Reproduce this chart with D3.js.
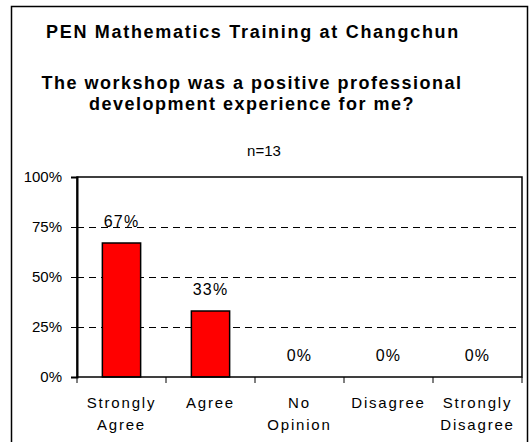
<!DOCTYPE html>
<html>
<head>
<meta charset="utf-8">
<script src="https://cdn.jsdelivr.net/npm/d3@7"></script>
<style>
  body { margin: 0; background: #fff; }
  text { font-family: "Liberation Sans", Arial, sans-serif; fill: #000; }
</style>
</head>
<body>
<div class="chart"></div>
<script>
// === Data ===
const categories = ["Strongly Agree", "Agree", "No Opinion", "Disagree", "Strongly Disagree"];
const categoryLines = [["Strongly", "Agree"], ["Agree"], ["No", "Opinion"], ["Disagree"], ["Strongly", "Disagree"]];
const percentages = [0.67, 0.33, 0, 0, 0];
const yTicks = [0, 0.25, 0.5, 0.75, 1];
const titleText = "PEN Mathematics Training at Changchun";
const subtitleLines = ["The workshop was a positive professional", "development experience for me?"];
const noteText = "n=13";

const width = 530, height = 442;
// plot area
const plot = {left: 77, right: 522, top: 177, bottom: 377};

const svg = d3.select(".chart").append("svg")
    .attr("width", width)
    .attr("height", height);

// outer frame (bottom edge runs off the picture)
svg.append("rect")
    .attr("x", 11.5)
    .attr("y", 6.5)
    .attr("width", 516)
    .attr("height", 460)
    .attr("fill", "none")
    .attr("stroke", "#000")
    .attr("stroke-width", 1.5);

// === Titles ===
svg.append("text")
    .attr("x", 253)
    .attr("y", 38)
    .attr("text-anchor", "middle")
    .attr("font-size", "18px")
    .attr("font-weight", "bold")
    .attr("letter-spacing", "1.7px")
    .text(titleText);

svg.selectAll(".subtitle")
    .data(subtitleLines)
    .enter()
    .append("text")
    .attr("class", "subtitle")
    .attr("x", 252)
    .attr("y", (d, i) => 89 + i * 21)
    .attr("text-anchor", "middle")
    .attr("font-size", "18px")
    .attr("font-weight", "bold")
    .attr("letter-spacing", "1.5px")
    .text(d => d);

svg.append("text")
    .attr("x", 264)
    .attr("y", 156)
    .attr("text-anchor", "middle")
    .attr("font-size", "15px")
    .text(noteText);

// === Scales ===
const xScale = d3.scaleBand()
    .domain(categories)
    .range([plot.left, plot.right])
    .paddingInner(0.57)
    .paddingOuter(0.285);

const yScale = d3.scaleLinear()
    .domain([0, 1])
    .range([plot.bottom, plot.top]);

// dashed grid lines
svg.append("g")
    .attr("transform", "translate(0,0.5)")
    .selectAll("line")
    .data(yTicks.filter(t => t > 0 && t < 1))
    .enter()
    .append("line")
    .attr("x1", plot.left)
    .attr("x2", plot.right - 6)
    .attr("y1", d => yScale(d))
    .attr("y2", d => yScale(d))
    .attr("stroke", "#000")
    .attr("stroke-width", 1)
    .attr("stroke-dasharray", "7,5");

// === Bars ===
svg.selectAll(".bar")
    .data(percentages)
    .enter()
    .append("rect")
    .attr("class", "bar")
    .attr("x", (d, i) => xScale(categories[i]))
    .attr("y", d => yScale(d))
    .attr("width", xScale.bandwidth())
    .attr("height", d => yScale(0) - yScale(d))
    .attr("fill", "#ff0000")
    .attr("stroke", "#000")
    .attr("stroke-width", 1.5);

// value labels
svg.selectAll(".value-label")
    .data(percentages)
    .enter()
    .append("text")
    .attr("class", "value-label")
    .attr("x", (d, i) => xScale(categories[i]) + xScale.bandwidth() / 2)
    .attr("y", d => yScale(d) - 16)
    .attr("text-anchor", "middle")
    .attr("font-size", "16px")
    .attr("letter-spacing", "1.2px")
    .text(d => d3.format(".0%")(d));

// plot frame
svg.append("rect")
    .attr("x", plot.left)
    .attr("y", plot.top)
    .attr("width", plot.right - plot.left)
    .attr("height", plot.bottom - plot.top)
    .attr("fill", "none")
    .attr("stroke", "#000")
    .attr("stroke-width", 1.5);

// === Axes ===
const yAxis = d3.axisLeft(yScale)
    .tickValues(yTicks)
    .tickFormat(d3.format(".0%"))
    .tickSize(6)
    .tickPadding(9);

const yAxisG = svg.append("g")
    .attr("transform", `translate(${plot.left},0)`)
    .call(yAxis);
yAxisG.select(".domain").attr("stroke-width", 2);
yAxisG.selectAll("text")
    .attr("font-size", "15px")
    .attr("font-family", null);

// category ticks on band boundaries
const boundaries = categories.map(c => xScale(c) - xScale.step() * xScale.paddingOuter());
boundaries.push(plot.right);
svg.append("g")
    .selectAll("line")
    .data(boundaries)
    .enter()
    .append("line")
    .attr("x1", d => d)
    .attr("x2", d => d)
    .attr("y1", plot.bottom)
    .attr("y2", plot.bottom + 6)
    .attr("stroke", "#000")
    .attr("stroke-width", 1);

// category labels
const catLabels = svg.append("g")
    .selectAll("text")
    .data(categoryLines)
    .enter()
    .append("text")
    .attr("text-anchor", "middle")
    .attr("font-size", "15px")
    .attr("letter-spacing", "1.8px");

catLabels.selectAll("tspan")
    .data((d, i) => d.map(line => ({line, i})))
    .enter()
    .append("tspan")
    .attr("x", d => xScale(categories[d.i]) + xScale.bandwidth() / 2)
    .attr("y", (d, j) => 408 + j * 22)
    .text(d => d.line);
</script>
</body>
</html>
